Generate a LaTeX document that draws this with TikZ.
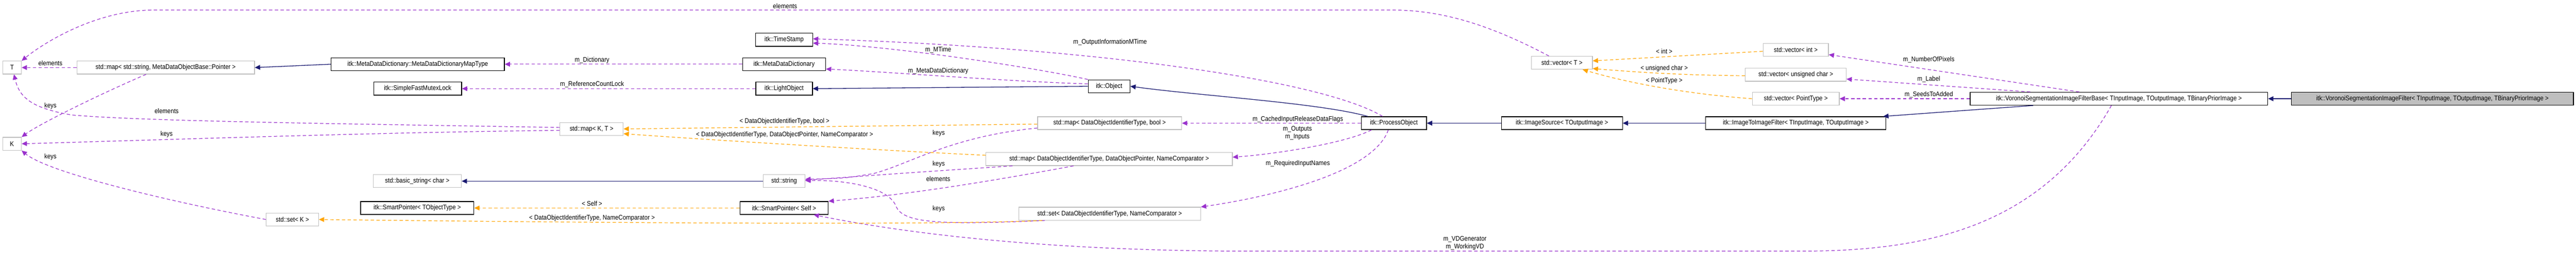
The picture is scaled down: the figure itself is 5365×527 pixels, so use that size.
\documentclass[tikz,border=0pt]{standalone}
\usepackage{fontspec}
\newfontfamily\dfont[FakeStretch=0.88]{Liberation Sans}
\usetikzlibrary{arrows.meta,calc}
\definecolor{purp}{HTML}{9A32CD}
\definecolor{orng}{HTML}{FFA500}
\definecolor{navy}{HTML}{191970}
\definecolor{sgray}{HTML}{BFBFBF}
\begin{document}
\begin{tikzpicture}[x=1pt,y=-1pt,
  box/.style={draw=black,fill=white,minimum height=27,inner sep=0,line width=1.3,font=\dfont\fontsize{14}{16}\selectfont},
  sbox/.style={box,draw=sgray},
  inh/.style={draw=navy,line width=1.4,-{Triangle[length=11,width=10]}},
  use/.style={draw=purp,line width=1.3,dash pattern=on 7 off 5,-{Triangle[length=11,width=10]}},
  tmpl/.style={draw=orng,line width=1.3,dash pattern=on 7 off 5,-{Triangle[length=11,width=10]}},
  lbl/.style={inner sep=0,align=center,font=\dfont\fontsize{14}{16}\selectfont}]
\useasboundingbox (0,0) rectangle (5365,527);
% nodes
\node[sbox,minimum width=39] (T) at (25,141) {T};
\node[sbox,minimum width=370] (mapS) at (345,141) {std::map< std::string, MetaDataObjectBase::Pointer >};
\node[box,minimum width=361] (mddmt) at (870,134) {itk::MetaDataDictionary::MetaDataDictionaryMapType};
\node[box,minimum width=183] (sfml) at (870,185) {itk::SimpleFastMutexLock};
\node[sbox,minimum width=39] (K) at (25,300) {K};
\node[sbox,minimum width=109] (setK) at (609,458) {std::set< K >};
\node[sbox,minimum width=184] (bstr) at (869,378) {std::basic\_string< char >};
\node[box,minimum width=236] (spT) at (869,434) {itk::SmartPointer< TObjectType >};
\node[box,minimum width=119] (ts) at (1633,83) {itk::TimeStamp};
\node[box,minimum width=173] (mdd) at (1633,134) {itk::MetaDataDictionary};
\node[box,minimum width=118] (lo) at (1633,185) {itk::LightObject};
\node[sbox,minimum width=132] (mapKT) at (1232,269) {std::map< K, T >};
\node[sbox,minimum width=87] (str) at (1633,378) {std::string};
\node[box,minimum width=184] (spS) at (1633,434) {itk::SmartPointer< Self >};
\node[box,minimum width=87] (obj) at (2310,180) {itk::Object};
\node[sbox,minimum width=300] (mapB) at (2311,257) {std::map< DataObjectIdentifierType, bool >};
\node[sbox,minimum width=513] (mapP) at (2310,332) {std::map< DataObjectIdentifierType, DataObjectPointer, NameComparator >};
\node[sbox,minimum width=379] (setN) at (2311,446) {std::set< DataObjectIdentifierType, NameComparator >};
\node[box,minimum width=136] (po) at (2903,257) {itk::ProcessObject};
\node[box,minimum width=252] (is) at (3253,257) {itk::ImageSource< TOutputImage >};
\node[sbox,minimum width=127] (vT) at (3253,131) {std::vector< T >};
\node[sbox,minimum width=136] (vI) at (3740,104) {std::vector< int >};
\node[sbox,minimum width=210] (vU) at (3740,156) {std::vector< unsigned char >};
\node[sbox,minimum width=181] (vP) at (3740,206) {std::vector< PointType >};
\node[box,minimum width=375] (i2i) at (3740,257) {itk::ImageToImageFilter< TInputImage, TOutputImage >};
\node[box,minimum width=620] (vb) at (4413,206) {itk::VoronoiSegmentationImageFilterBase< TInputImage, TOutputImage, TBinaryPriorImage >};
\node[box,fill=sgray,minimum width=587] (vf) at (5066,206) {itk::VoronoiSegmentationImageFilter< TInputImage, TOutputImage, TBinaryPriorImage >};
% inheritance
\draw[inh] (mddmt.west) -- (mapS.east);
\draw[inh] (obj.west) -- (lo.east);
\draw[inh] ($(po.north west)+(14,0)$) .. controls (2750,215) and (2500,200) .. (obj.east);
\draw[inh] (is.west) -- (po.east);
\draw[inh] (i2i.west) -- (is.east);
\draw[inh] ($(vb.south west)+(132,0)$) -- ($(i2i.north east)+(-6,0)$);
\draw[inh] (vf.west) -- (vb.east);
\draw[inh] (str.west) -- (bstr.east);
% usage
\draw[use] (mapS.west) -- (T.east);
\draw[use] ($(mapS.south west)+(145,0)$) .. controls (200,200) and (80,260) .. (K.north east);
\draw[use] (mdd.west) -- (mddmt.east);
\draw[use] (lo.west) -- (sfml.east);
\draw[use] (obj.north west) .. controls (2150,140) and (1850,95) .. ($(ts.east)+(0,7)$);
\draw[use] ($(obj.west)+(0,-5)$) .. controls (2100,170) and (1850,150) .. ($(mdd.east)+(0,10)$);
\draw[use] ($(po.north west)+(45,0)$) .. controls (2760,170) and (2300,100) .. ($(ts.east)+(0,-2)$);
\draw[use] (po.west) -- (mapB.east);
\draw[use] ($(po.south west)+(22,0)$) .. controls (2800,300) and (2650,322) .. ($(mapP.east)+(0,-4)$);
\draw[use] ($(po.south west)+(57,0)$) .. controls (2860,360) and (2650,410) .. (setN.north east);
\draw[use] ($(vb.north west)+(228,0)$) -- ($(vI.east)+(0,10)$);
\draw[use] ($(vb.north west)+(126,0)$) -- ($(vU.east)+(0,9)$);
\draw[use] (vb.west) -- (vP.east);
\draw[use] ($(vb.south west)+(295,0)$) .. controls (4250,480) and (4000,524) .. (3751,524) -- (2600,524) .. controls (2200,524) and (1900,490) .. ($(spS.south east)+(-31,0)$);
\draw[use] ($(vT.north west)+(37,0)$) .. controls (3100,50) and (3000,21) .. (2900,21) -- (320,21) .. controls (200,21) and (90,90) .. (T.north east);
\draw[use] ($(mapKT.west)+(0,-3)$) .. controls (700,258) and (300,253) .. (150,240) .. controls (60,225) and (40,200) .. ($(T.south)+(4,0)$);
\draw[use] ($(mapKT.west)+(0,3)$) .. controls (800,276) and (400,290) .. (K.east);
\draw[use] (setK.west) .. controls (350,420) and (100,360) .. (K.south east);
\draw[use] ($(mapB.south west)+(0,-4)$) .. controls (1980,285) and (1900,340) .. (1820,362) .. controls (1760,372) .. ($(str.east)+(0,-4)$);
\draw[use] ($(mapP.south west)+(56,0)$) .. controls (1900,360) .. ($(str.east)+(0,-2)$);
\draw[use] ($(mapP.south west)+(183,0)$) .. controls (2000,390) and (1850,410) .. (spS.north east);
\draw[use] ($(setN.south west)+(55,0)$) .. controls (1950,470) and (1880,465) .. (1866,430) .. controls (1850,390) and (1760,375) .. ($(str.east)+(0,-1)$);
% templates
\draw[tmpl] ($(vI.west)+(0,3)$) -- ($(vT.east)+(0,-4)$);
\draw[tmpl] ($(vU.west)+(0,2)$) .. controls (3500,157) and (3400,150) .. ($(vT.east)+(0,12)$);
\draw[tmpl] (vP.west) .. controls (3500,195) and (3380,170) .. ($(vT.south east)+(-21,0)$);
\draw[tmpl] ($(mapB.west)+(0,2)$) -- (mapKT.east);
\draw[tmpl] ($(mapP.west)+(0,-8)$) .. controls (1800,312) and (1450,290) .. ($(mapKT.east)+(0,10)$);
\draw[tmpl] (spS.west) -- (spT.east);
\draw[tmpl] ($(setN.south west)+(50,0)$) .. controls (1900,472) and (1000,462) .. (setK.east);
% labels
\node[lbl] (l1) at (105,132) {elements};
\node[lbl] (l2) at (105,221) {keys};
\node[lbl] (l3) at (347,232) {elements};
\node[lbl] (l4) at (347,280) {keys};
\node[lbl] (l5) at (105,327) {keys};
\node[lbl] (l6) at (1233,126) {m\_Dictionary};
\node[lbl] (l7) at (1233,176) {m\_ReferenceCountLock};
\node[lbl] (l8) at (1635,13) {elements};
\node[lbl] (l9) at (1634,253) {< DataObjectIdentifierType, bool >};
\node[lbl] (l10) at (1634,281) {< DataObjectIdentifierType, DataObjectPointer, NameComparator >};
\node[lbl] (l11) at (1233,425) {< Self >};
\node[lbl] (l12) at (1233,455) {< DataObjectIdentifierType, NameComparator >};
\node[lbl] (l13) at (2312,88) {m\_OutputInformationMTime};
\node[lbl] (l14) at (1954,104) {m\_MTime};
\node[lbl] (l15) at (1954,148) {m\_MetaDataDictionary};
\node[lbl] (l16) at (1955,278) {keys};
\node[lbl] (l17) at (1955,342) {keys};
\node[lbl] (l18) at (1954,373) {elements};
\node[lbl] (l19) at (1955,436) {keys};
\node[lbl] (l20) at (2703,249) {m\_CachedInputReleaseDataFlags};
\node[lbl] (l21) at (2702,278) {m\_Outputs\\m\_Inputs};
\node[lbl] (l22) at (2703,341) {m\_RequiredInputNames};
\node[lbl] (l23) at (3051,507) {m\_VDGenerator\\m\_WorkingVD};
\node[lbl] (l24) at (3466,107) {< int >};
\node[lbl] (l25) at (3466,143) {< unsigned char >};
\node[lbl] (l26) at (3466,169) {< PointType >};
\node[lbl] (l27) at (4017,125) {m\_NumberOfPixels};
\node[lbl] (l28) at (4017,165) {m\_Label};
\node[lbl] (l29) at (4017,197) {m\_SeedsToAdded};
\end{tikzpicture}
\end{document}
